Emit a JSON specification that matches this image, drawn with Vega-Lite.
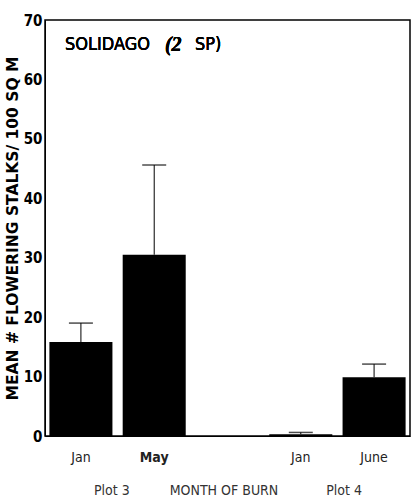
{
  "$schema": "https://vega.github.io/schema/vega-lite/v6.json",
  "width": 365,
  "height": 416,
  "autosize": "none",
  "padding": {"left": 45, "top": 20, "right": 4, "bottom": 63},
  "background": "white",
  "config": {
    "view": {"stroke": "black", "strokeWidth": 1.5},
    "font": "DejaVu Sans Condensed, sans-serif"
  },
  "data": {
    "values": [
      {"burn": "Jan3", "mean": 15.8, "upper": 19.0},
      {"burn": "May", "mean": 30.5, "upper": 45.6},
      {"burn": "Jan4", "mean": 0.3, "upper": 0.6},
      {"burn": "June", "mean": 9.9, "upper": 12.1}
    ]
  },
  "encoding": {
    "x": {
      "field": "burn",
      "type": "nominal",
      "sort": null,
      "scale": {"domain": ["Jan3", "May", "gap", "Jan4", "June"], "paddingInner": 0.14, "paddingOuter": 0.06},
      "axis": {
        "labelExpr": "datum.value == 'Jan3' || datum.value == 'Jan4' ? 'Jan' : (datum.value == 'gap' ? '' : datum.value)",
        "labelAngle": 0,
        "ticks": false,
        "labelPadding": 14,
        "labelFontSize": 14,
        "labelColor": "#222",
        "labelFontWeight": {"condition": {"test": "datum.value == 'May'", "value": "bold"}, "value": "normal"},
        "domainColor": "black",
        "title": "Plot 3\u00a0\u00a0\u00a0\u00a0\u00a0\u00a0\u00a0\u00a0\u00a0\u00a0MONTH OF BURN\u00a0\u00a0\u00a0\u00a0\u00a0\u00a0\u00a0\u00a0\u00a0\u00a0\u00a0\u00a0Plot 4",
        "titleFontSize": 14,
        "titleFontWeight": "normal",
        "titleColor": "#333",
        "titlePadding": 19
      }
    }
  },
  "layer": [
    {
      "mark": {"type": "bar", "color": "black"},
      "encoding": {
        "y": {
          "field": "mean",
          "type": "quantitative",
          "scale": {"domain": [0, 70], "nice": false},
          "axis": {
            "values": [0, 10, 20, 30, 40, 50, 60, 70],
            "grid": false,
            "ticks": false,
            "labelPadding": 3,
            "labelFontSize": 15,
            "labelFontWeight": "bold",
            "labelColor": "black",
            "domainColor": "black",
            "title": "MEAN # FLOWERING STALKS/ 100 SQ M",
            "titleFont": "DejaVu Sans",
            "titleFontSize": 15.5,
            "titleFontWeight": "bold",
            "titlePadding": 3,
            "titleColor": "black"
          }
        }
      }
    },
    {
      "mark": {"type": "rule", "color": "black", "strokeWidth": 1},
      "encoding": {
        "y": {"field": "mean", "type": "quantitative"},
        "y2": {"field": "upper"}
      }
    },
    {
      "mark": {"type": "tick", "color": "black", "size": 24, "thickness": 1.5},
      "encoding": {
        "y": {"field": "upper", "type": "quantitative"}
      }
    },
    {
      "mark": {"type": "text", "align": "left", "baseline": "middle", "fontSize": 18, "dx": -16, "font": "DejaVu Sans Condensed, sans-serif", "color": "black"},
      "encoding": {
        "x": {"datum": "Jan3"},
        "y": {"datum": 65.8},
        "text": {"value": "SOLIDAGO"}
      }
    },
    {
      "mark": {"type": "text", "align": "left", "baseline": "middle", "fontSize": 20, "dx": 84, "font": "Liberation Serif", "fontStyle": "italic", "fontWeight": "bold", "color": "black"},
      "encoding": {
        "x": {"datum": "Jan3"},
        "y": {"datum": 65.8},
        "text": {"value": "(2"}
      }
    },
    {
      "mark": {"type": "text", "align": "left", "baseline": "middle", "fontSize": 18, "dx": 114, "font": "DejaVu Sans Condensed, sans-serif", "color": "black"},
      "encoding": {
        "x": {"datum": "Jan3"},
        "y": {"datum": 65.8},
        "text": {"value": "SP)"}
      }
    }
  ]
}
